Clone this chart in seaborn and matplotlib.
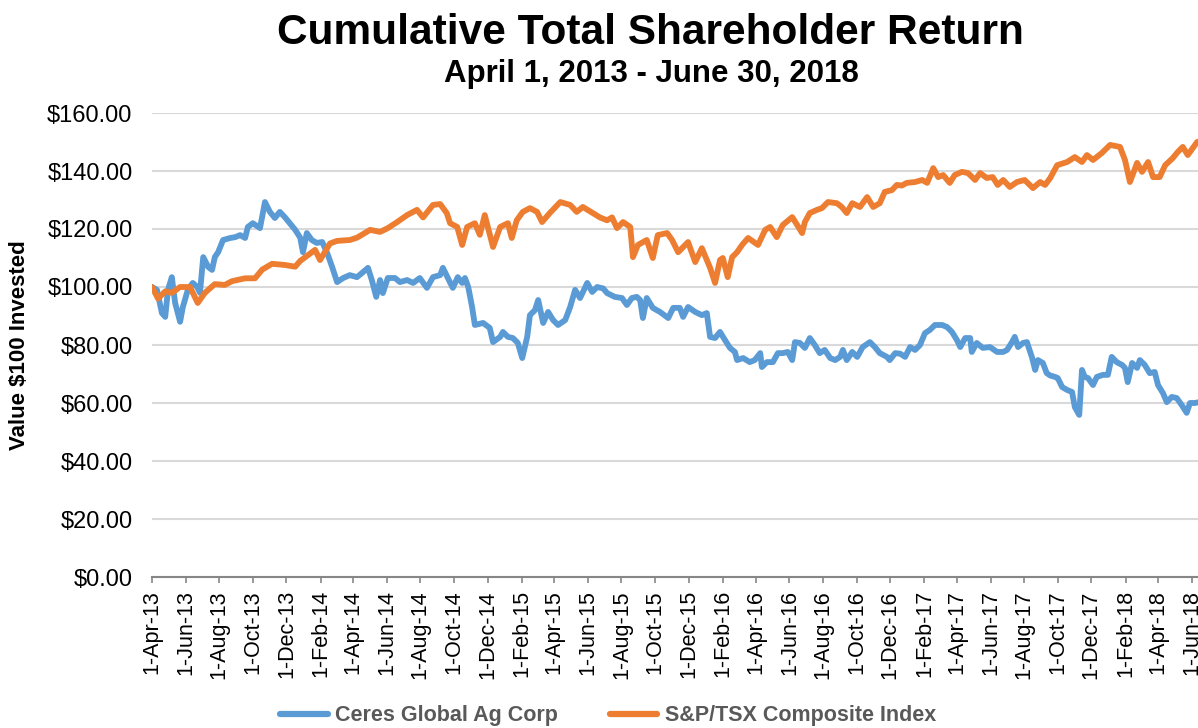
import numpy as np
import pandas as pd
import matplotlib
matplotlib.use("Agg")
import matplotlib.pyplot as plt
import seaborn as sns

# ---------------- data ----------------
start_date = "2013-04-01"
end_date = "2018-06-30"

series_names = ["Ceres Global Ag Corp", "S&P/TSX Composite Index"]

# days since 2013-04-01, value of $100 invested
ceres_days = [0, 9, 18, 24, 29, 36, 42, 51, 56, 65, 74, 82, 87, 93, 102, 109, 114, 120, 129, 142,
              151, 160, 169, 174, 183, 196, 205, 214, 223, 232, 241, 250, 260, 269, 274, 281, 290, 299,
              309, 318, 327, 336, 347, 359, 372, 381, 392, 399, 407, 414, 419, 428, 441, 450, 463, 474,
              486, 499, 510, 523, 528, 537, 546, 555, 563, 568, 574, 581, 586, 601, 613, 619, 632, 637,
              646, 655, 664, 672, 681, 686, 695, 701, 710, 719, 728, 737, 750, 759, 768, 777, 790, 799,
              808, 819, 826, 840, 853, 862, 871, 880, 886, 891, 898, 909, 922, 937, 946, 958, 964, 973,
              986, 998, 1007, 1013, 1022, 1031, 1040, 1049, 1058, 1062, 1073, 1085, 1094, 1104, 1107,
              1116, 1127, 1136, 1145, 1154, 1162, 1167, 1176, 1185, 1194, 1203, 1212, 1221, 1231, 1240,
              1249, 1254, 1261, 1271, 1280, 1290, 1303, 1312, 1321, 1334, 1339, 1349, 1358, 1367, 1376,
              1385, 1394, 1403, 1412, 1421, 1434, 1443, 1452, 1461, 1467, 1476, 1485, 1488, 1497, 1508,
              1521, 1534, 1545, 1552, 1561, 1566, 1572, 1581, 1588, 1597, 1603, 1608, 1617, 1624, 1630,
              1639, 1644, 1652, 1661, 1670, 1675, 1683, 1688, 1693, 1699, 1708, 1715, 1726, 1735, 1742,
              1751, 1761, 1766, 1771, 1779, 1788, 1793, 1802, 1811, 1820, 1826, 1835, 1842, 1851, 1860,
              1869, 1878, 1884, 1893, 1905, 1916]
ceres_values = [100, 99, 91, 89.7, 99, 103.4, 94.5, 88, 93.1, 99, 101.4, 100, 98, 110.3, 106.9, 105.9,
                110.3, 112, 116.2, 116.9, 117.2, 117.9, 116.9, 120.7, 122, 120.3, 129.3, 125.9, 123.8,
                125.9, 124.1, 122, 119.7, 117, 112, 118.6, 116.2, 115.2, 115.5, 111.7, 106.9, 101.7,
                103.1, 104.1, 103.4, 104.8, 106.6, 102.4, 96.6, 102.4, 97.9, 103.1, 103.1, 101.7, 102.4,
                101.4, 103.1, 99.7, 103.4, 104.1, 106.6, 103.1, 99.7, 103.4, 101.4, 103.1, 100, 93.1,
                86.9, 87.6, 85.9, 81, 82.8, 84.5, 82.8, 82.4, 80.7, 75.5, 82.8, 90.3, 92, 95.5, 87.6,
                91.4, 88.6, 86.9, 88.6, 93.1, 99, 96.2, 101.4, 98.3, 100, 99.5, 97.9, 96.6, 96.2, 93.8,
                96.2, 96.6, 95.5, 89.3, 96.2, 92.8, 91.4, 89.3, 92.8, 92.8, 89.7, 93.1, 91.4, 90.3, 91,
                82.8, 82.4, 84.5, 81.7, 79, 77.6, 74.8, 75.5, 74.1, 74.8, 77.2, 72.4, 74.1, 74.1, 77.2,
                77.2, 77.6, 74.8, 81, 80.7, 79, 82.4, 80, 77.2, 78.3, 75.5, 74.8, 75.9, 78.3, 74.8, 77.6,
                75.9, 79.3, 81, 79.3, 77.2, 75.9, 74.8, 77.2, 77, 75.9, 79.3, 78.3, 80, 84.1, 85.2, 86.9,
                86.9, 86.2, 84.5, 81.7, 79.3, 82.4, 82.4, 77.6, 80.7, 79, 79.3, 77.6, 77.6, 78.3, 81,
                82.8, 79.3, 80.7, 81, 75.9, 71.4, 74.8, 73.8, 70.3, 69.5, 69, 68.6, 65.5, 64.5, 63.8,
                58.6, 55.9, 71.4, 69, 68.6, 66.2, 69, 69.7, 69.7, 75.9, 74.1, 73.1, 72.1, 67.2, 73.8,
                72.1, 74.8, 73.1, 70.3, 70.7, 66.2, 63.4, 60.3, 62.1, 61.7, 59.3, 56.6, 60, 60, 60.5, 60]

tsx_days = [0, 11, 24, 36, 51, 69, 83, 96, 114, 132, 145, 169, 187, 200, 218, 241, 260, 269, 296, 305,
            323, 336, 359, 372, 396, 414, 428, 445, 463, 481, 492, 510, 523, 535, 541, 554, 563, 572,
            586, 595, 604, 619, 632, 646, 653, 662, 673, 686, 699, 708, 722, 741, 759, 771, 782, 800,
            813, 826, 835, 844, 855, 868, 873, 882, 898, 909, 918, 935, 944, 955, 973, 986, 998, 1013,
            1022, 1031, 1036, 1045, 1053, 1062, 1071, 1082, 1100, 1113, 1122, 1134, 1145, 1162, 1171,
            1180, 1185, 1194, 1207, 1216, 1227, 1243, 1252, 1261, 1271, 1285, 1298, 1309, 1321, 1330,
            1343, 1352, 1361, 1370, 1385, 1398, 1407, 1418, 1427, 1436, 1448, 1457, 1470, 1481, 1494,
            1503, 1515, 1526, 1535, 1545, 1557, 1570, 1584, 1599, 1612, 1621, 1630, 1643, 1661, 1675,
            1688, 1697, 1708, 1724, 1739, 1757, 1766, 1775, 1788, 1797, 1808, 1817, 1829, 1839, 1853,
            1862, 1871, 1880, 1897, 1905, 1916]
tsx_values = [100, 96, 98.5, 98, 100, 100, 94.5, 98, 101, 100.7, 102, 103, 103, 106, 108, 107.6, 107,
              109, 112.8, 109.3, 115, 115.9, 116.2, 117, 119.7, 119, 120.3, 122.4, 124.8, 126.6, 124,
              128.3, 128.6, 125.5, 122, 120.7, 114.5, 120.7, 122, 118, 124.8, 113.8, 120.7, 122, 116.9,
              123, 125.9, 127.2, 125.9, 122.4, 125.5, 129.3, 128.3, 125.9, 127.6, 125.5, 124, 123, 124,
              120.3, 122.4, 120.7, 110.3, 114.5, 116.2, 110, 117.9, 118.6, 116.2, 112, 115.5, 108.6,
              113.4, 106.6, 101.4, 109.3, 110, 103.4, 110.3, 112, 114.5, 116.9, 114.5, 119.7, 120.7,
              117.2, 121.4, 124.1, 121.4, 118.6, 122.4, 125.5, 126.6, 127.2, 129.3, 128.9, 127.6, 125.5,
              128.9, 127.6, 131, 127.6, 128.9, 132.8, 133.4, 135.2, 135, 135.9, 136.2, 136.9, 135.9,
              141, 137.9, 138.6, 135.9, 138.6, 139.7, 139.3, 136.9, 139.3, 137.6, 137.9, 135.2, 136.9,
              134.5, 136.2, 136.9, 134.1, 136.2, 135.2, 137.5, 142, 143.1, 144.8, 143.1, 145.5, 143.8,
              146.2, 149, 148.3, 143.8, 136.2, 142.8, 139.7, 143.1, 137.9, 137.9, 142, 144.5, 146.6,
              148.3, 145.5, 150, 150.5, 151]

tick_labels = ["1-Apr-13", "1-Jun-13", "1-Aug-13", "1-Oct-13", "1-Dec-13", "1-Feb-14", "1-Apr-14",
               "1-Jun-14", "1-Aug-14", "1-Oct-14", "1-Dec-14", "1-Feb-15", "1-Apr-15", "1-Jun-15",
               "1-Aug-15", "1-Oct-15", "1-Dec-15", "1-Feb-16", "1-Apr-16", "1-Jun-16", "1-Aug-16",
               "1-Oct-16", "1-Dec-16", "1-Feb-17", "1-Apr-17", "1-Jun-17", "1-Aug-17", "1-Oct-17",
               "1-Dec-17", "1-Feb-18", "1-Apr-18", "1-Jun-18"]
y_ticks = [0, 20, 40, 60, 80, 100, 120, 140, 160]

title_text = "Cumulative Total Shareholder Return"
subtitle_text = "April 1, 2013 - June 30, 2018"
y_label = "Value $100 Invested"

# ---------------- build frame ----------------
t0 = pd.Timestamp(start_date)
df = pd.concat([
    pd.DataFrame({"date": t0 + pd.to_timedelta(ceres_days, unit="D"),
                  "value": ceres_values, "series": series_names[0]}),
    pd.DataFrame({"date": t0 + pd.to_timedelta(tsx_days, unit="D"),
                  "value": tsx_values, "series": series_names[1]}),
], ignore_index=True)

# ---------------- style ----------------
sns.set_style("white")
plt.rcParams["font.family"] = ["Liberation Sans", "DejaVu Sans"]
plt.rcParams["text.color"] = "black"
plt.rcParams["xtick.color"] = "black"
plt.rcParams["ytick.color"] = "black"
plt.rcParams["axes.labelcolor"] = "black"

colors = {series_names[0]: "#5B9BD5", series_names[1]: "#ED7D31"}

fig = plt.figure(figsize=(11.98, 7.28), dpi=100)
ax = fig.add_axes([152 / 1198, 151 / 728, 1055.6 / 1198, 464 / 728])

sns.lineplot(data=df, x="date", y="value", hue="series", palette=colors,
             hue_order=series_names, estimator=None, sort=False,
             linewidth=4.2, ax=ax, zorder=3)
for ln in ax.get_lines():
    ln.set_solid_joinstyle("round")
    ln.set_solid_capstyle("round")

handles, labels = ax.get_legend_handles_labels()
if ax.get_legend() is not None:
    ax.get_legend().remove()

ax.set_xlim(pd.Timestamp(start_date), pd.Timestamp(end_date))
ax.set_ylim(0, 160)
ax.set_yticks(y_ticks)
ax.set_yticklabels([f"${v:.2f}" for v in y_ticks], fontsize=17)

tick_dates = [pd.to_datetime(s, format="%d-%b-%y") for s in tick_labels]
ax.set_xticks(tick_dates)
ax.set_xticklabels(tick_labels, rotation=90, fontsize=15.5)

ax.grid(axis="y", color="#D9D9D9", linewidth=1.5, zorder=0)
ax.grid(axis="x", visible=False)
for side in ["top", "right", "left"]:
    ax.spines[side].set_visible(False)
ax.spines["bottom"].set_color("#868686")
ax.spines["bottom"].set_linewidth(1.5)
ax.spines["bottom"].set_zorder(2)
ax.tick_params(axis="x", which="major", direction="out", length=4.5, width=1.2,
               color="#868686", labelcolor="black", pad=5, bottom=True)
ax.tick_params(axis="y", length=0, pad=14, labelcolor="black")
ax.set_xlabel("")
ax.set_ylabel(y_label, fontsize=16, fontweight="bold", color="black")
ax.yaxis.set_label_coords(-(152 - 30) / 1055.6, 0.5)

fig.text(650 / 1198, 1 - 33 / 728, title_text, ha="center", va="center",
         fontsize=30.5, fontweight="bold", color="black")
fig.text(651 / 1198, 1 - 74 / 728, subtitle_text, ha="center", va="center",
         fontsize=22.5, fontweight="bold", color="black")

leg = fig.legend(handles, labels, loc="center", bbox_to_anchor=(608 / 1198, 1 - 716 / 728),
                 ncol=2, frameon=False, fontsize=15.5, handlelength=2.2, handletextpad=0.35,
                 columnspacing=2.4)
for t in leg.get_texts():
    t.set_color("#595959")
    t.set_fontweight("bold")
for h in leg.legend_handles:
    h.set_linewidth(4.5)

fig.savefig("out.png", dpi=100)
